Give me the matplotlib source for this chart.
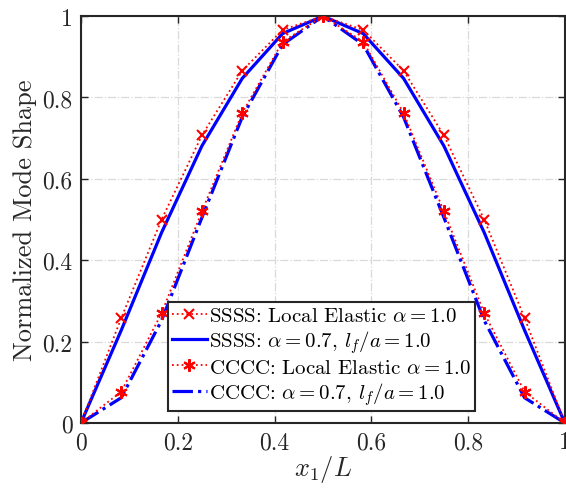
import matplotlib
matplotlib.use("Agg")
import matplotlib.pyplot as plt

plt.rcParams['font.family'] = 'serif'
plt.rcParams['font.serif'] = ['cmr10']
plt.rcParams['mathtext.fontset'] = 'cm'
plt.rcParams['axes.formatter.use_mathtext'] = True

x = [0, 1/12, 2/12, 3/12, 4/12, 5/12, 6/12, 7/12, 8/12, 9/12, 10/12, 11/12, 1]
ssss_local = [0, 0.258, 0.5, 0.707, 0.866, 0.966, 1.0, 0.966, 0.866, 0.707, 0.5, 0.258, 0]
ssss_nonlocal = [0, 0.228, 0.468, 0.681, 0.847, 0.957, 1.0, 0.957, 0.847, 0.681, 0.468, 0.228, 0]
cccc_local = [0, 0.077, 0.27, 0.52, 0.762, 0.937, 1.0, 0.937, 0.762, 0.52, 0.27, 0.077, 0]
cccc_nonlocal = [0, 0.062, 0.252, 0.505, 0.752, 0.93, 1.0, 0.93, 0.752, 0.505, 0.252, 0.062, 0]

labels = [r'SSSS: Local Elastic $\alpha=1.0$',
          r'SSSS: $\alpha=0.7$, $l_f/a=1.0$',
          r'CCCC: Local Elastic $\alpha=1.0$',
          r'CCCC: $\alpha=0.7$, $l_f/a=1.0$']

fig = plt.figure(figsize=(5.66, 4.89), dpi=100)
ax = fig.add_axes([0.143, 0.133, 0.855, 0.832])

ax.plot(x, ssss_local, color='red', linestyle=':', linewidth=1.3, marker='x',
        markersize=7, markeredgewidth=1.5, label=labels[0], zorder=3)
ax.plot(x, ssss_nonlocal, color='blue', linestyle='-', linewidth=2.3, label=labels[1], zorder=2)
ax.plot(x, cccc_local, color='red', linestyle=':', linewidth=1.3, marker=(6, 2, 0),
        markersize=9, markeredgewidth=1.5, label=labels[2], zorder=3)
ax.plot(x, cccc_nonlocal, color='blue', linestyle='-.', linewidth=2.3, label=labels[3], zorder=2)

ax.set_xlim(0, 1)
ax.set_ylim(0, 1)
ax.set_xticks([0, 0.2, 0.4, 0.6, 0.8, 1])
ax.set_xticklabels(['0', '0.2', '0.4', '0.6', '0.8', '1'])
ax.set_yticks([0, 0.2, 0.4, 0.6, 0.8, 1])
ax.set_yticklabels(['0', '0.2', '0.4', '0.6', '0.8', '1'])
ax.tick_params(direction='in', top=True, right=True, labelsize=17, length=5, width=1,
               colors='#262626', pad=6)
ax.grid(True, color='#d9d9d9', linestyle='-.', linewidth=0.9)
ax.set_axisbelow(True)
for s in ax.spines.values():
    s.set_linewidth(1.5)
    s.set_color('#262626')

ax.set_xlabel(r'$x_1/L$', fontsize=19, color='#262626', labelpad=0)
ax.set_ylabel('Normalized Mode Shape', fontsize=19, color='#262626', labelpad=4)

leg = ax.legend(loc='lower center', bbox_to_anchor=(0.497, 0.03), fontsize=15,
                handlelength=1.7, handletextpad=0.1, borderpad=0.2, labelspacing=0.15,
                fancybox=False, framealpha=1, edgecolor='#262626', borderaxespad=0.0)
leg.get_frame().set_linewidth(1.5)

fig.savefig('out.png', dpi=100)
